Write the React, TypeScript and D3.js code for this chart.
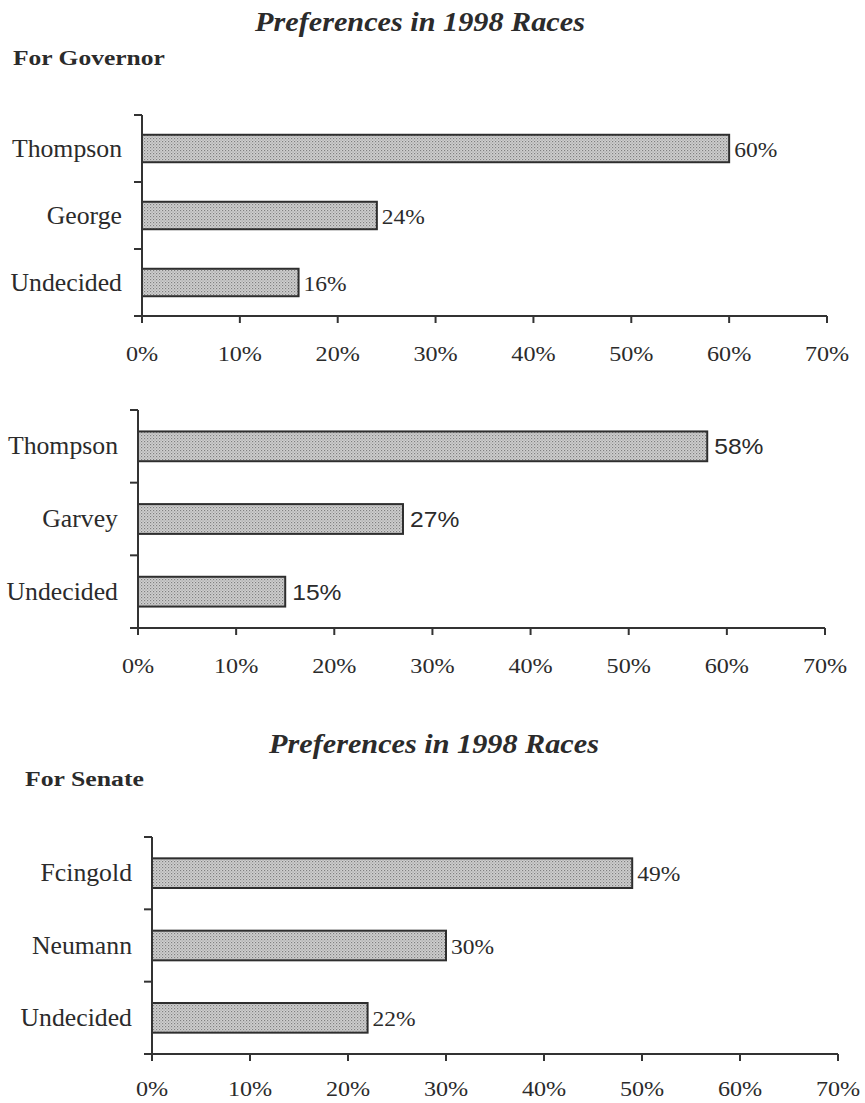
import React from "react";
import * as d3 from "d3";

const chartTitle = "Preferences in 1998 Races";
const governorHeading = "For Governor";
const senateHeading = "For Senate";

const governorCandidatesA = ["Thompson", "George", "Undecided"];
const governorValuesA = [60, 24, 16];

const governorCandidatesB = ["Thompson", "Garvey", "Undecided"];
const governorValuesB = [58, 27, 15];

const senateCandidates = ["Fcingold", "Neumann", "Undecided"];
const senateValues = [49, 30, 22];

const xTickValues = [0, 10, 20, 30, 40, 50, 60, 70];

const SERIF = "'Liberation Serif', 'Times New Roman', serif";
const SANS = "'Liberation Sans', Arial, sans-serif";
const INK = "#2b2b2b";

type TProps = {
  x: number;
  y: number;
  size: number;
  sx?: number;
  anchor?: "start" | "middle" | "end";
  family?: string;
  weight?: string;
  italic?: boolean;
  children: React.ReactNode;
};

function T({ x, y, size, sx = 1.12, anchor = "start", family = SERIF, weight = "normal", italic = false, children }: TProps) {
  return (
    <g transform={`translate(${x},${y}) scale(${sx},1)`}>
      <text
        x={0}
        y={0}
        fontSize={size}
        fontFamily={family}
        fontWeight={weight}
        fontStyle={italic ? "italic" : "normal"}
        textAnchor={anchor}
        fill={INK}
      >
        {children}
      </text>
    </g>
  );
}

type PanelProps = {
  categories: string[];
  values: number[];
  axisX: number;
  axisXEnd: number;
  yTop: number;
  yBottom: number;
  labelFamily: string;
  labelSize: number;
  labelGap: number;
  tickOffset: number;
};

function Panel({ categories, values, axisX, axisXEnd, yTop, yBottom, labelFamily, labelSize, labelGap, tickOffset }: PanelProps) {
  const x = d3.scaleLinear().domain([0, 70]).range([axisX, axisXEnd]);
  const y = d3.scaleBand<string>().domain(categories).range([yTop, yBottom]).paddingInner(0.59).paddingOuter(0.295);
  const step = (yBottom - yTop) / categories.length;
  const boundaries = d3.range(categories.length + 1).map((i) => yTop + i * step);
  return (
    <g>
      {categories.map((c, i) => {
        const yy = y(c) as number;
        const bw = y.bandwidth();
        return (
          <g key={c}>
            <rect
              x={x(0)}
              y={yy}
              width={x(values[i]) - x(0)}
              height={bw}
              fill="url(#dots)"
              stroke="#2e2e2e"
              strokeWidth={2}
            />
            <T x={x(values[i]) + labelGap} y={yy + bw / 2 + 8} size={labelSize} family={labelFamily}>
              {values[i]}%
            </T>
            <T x={axisX - 20} y={yy + bw / 2 + 8} size={25} sx={1.03} anchor="end">
              {c}
            </T>
          </g>
        );
      })}
      {/* y axis */}
      <line x1={axisX} x2={axisX} y1={yTop} y2={yBottom} stroke="#333" strokeWidth={2} />
      {boundaries.map((b, i) => (
        <line key={i} x1={axisX - 8} x2={axisX} y1={b} y2={b} stroke="#333" strokeWidth={2} />
      ))}
      {/* x axis */}
      <line x1={x(0) - 8} x2={x(70)} y1={yBottom} y2={yBottom} stroke="#333" strokeWidth={2} />
      {xTickValues.map((t) => (
        <g key={t}>
          <line x1={x(t)} x2={x(t)} y1={yBottom} y2={yBottom + 7} stroke="#333" strokeWidth={2} />
          <T x={x(t)} y={yBottom + tickOffset} size={21} sx={1.15} anchor="middle">
            {t}%
          </T>
        </g>
      ))}
    </g>
  );
}

export default function App() {
  return (
    <svg width={865} height={1103} style={{ display: "block", position: "absolute", left: 0, top: 0, background: "#fff" }}>
      <defs>
        <pattern id="dots" width={3} height={3} patternUnits="userSpaceOnUse">
          <rect width={3} height={3} fill="#d0d0d0" />
          <rect x={0} y={0} width={1.2} height={1.2} fill="#808080" />
          <rect x={1.5} y={1.5} width={1.2} height={1.2} fill="#a0a0a0" />
        </pattern>
      </defs>
      <rect width={865} height={1103} fill="#fff" />

      <T x={420} y={31} size={27} anchor="middle" weight="bold" italic>
        {chartTitle}
      </T>
      <T x={13} y={65} size={22} sx={1.16} weight="bold">
        {governorHeading}
      </T>
      <Panel
        categories={governorCandidatesA}
        values={governorValuesA}
        axisX={142}
        axisXEnd={827}
        yTop={115}
        yBottom={316}
        labelFamily={SERIF}
        labelSize={21}
        labelGap={5}
        tickOffset={45}
      />

      <Panel
        categories={governorCandidatesB}
        values={governorValuesB}
        axisX={138}
        axisXEnd={825}
        yTop={410}
        yBottom={628}
        labelFamily={SANS}
        labelSize={22}
        labelGap={7}
        tickOffset={45}
      />

      <T x={434} y={753} size={27} anchor="middle" weight="bold" italic>
        {chartTitle}
      </T>
      <T x={25} y={786} size={22} sx={1.17} weight="bold">
        {senateHeading}
      </T>
      <Panel
        categories={senateCandidates}
        values={senateValues}
        axisX={152}
        axisXEnd={838}
        yTop={837}
        yBottom={1054}
        labelFamily={SERIF}
        labelSize={21}
        labelGap={5}
        tickOffset={42}
      />
    </svg>
  );
}
